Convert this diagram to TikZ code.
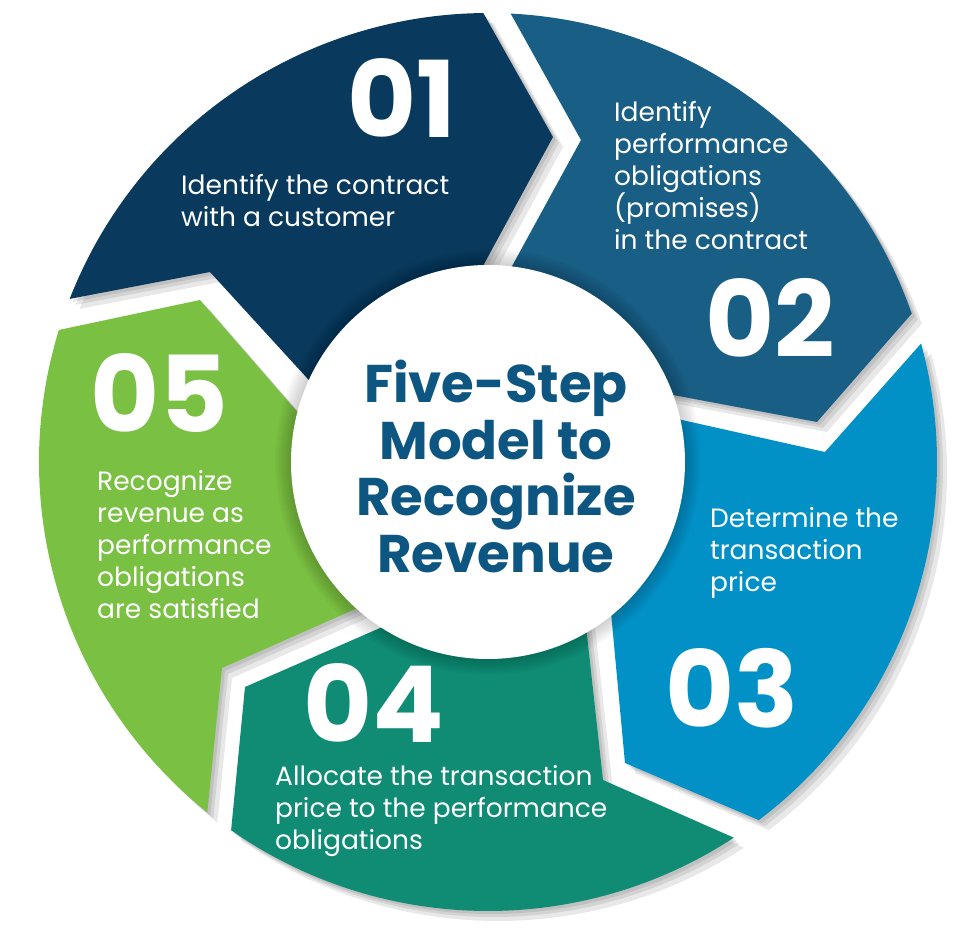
\documentclass[tikz,border=0pt]{standalone}
\usepackage{fontspec}
\setmainfont{Poppins}
\usepackage{xcolor}
\usepackage{tikz}
\usetikzlibrary{calc}
\definecolor{navyone}{RGB}{9,58,93}
\definecolor{bluetwo}{RGB}{25,94,133}
\definecolor{cyanthree}{RGB}{2,145,199}
\definecolor{tealfour}{RGB}{15,140,115}
\definecolor{limefive}{RGB}{122,192,66}
\definecolor{hubblue}{RGB}{14,86,130}
\tikzstyle{piece} = [preaction = {fill=black, opacity=0.09, transform canvas={xshift=3pt, yshift=-3pt}},
  preaction = {fill=black, opacity=0.09, transform canvas={xshift=6pt, yshift=-6pt}},
  preaction = {fill=black, opacity=0.09, transform canvas={xshift=10pt, yshift=-10pt}}]
\tikzstyle{stepnum} = [text=white, inner sep=0pt, text depth=0pt, font=\fontsize{106}{106}\selectfont\bfseries]
\tikzstyle{steptext} = [text=white, inner sep=0pt, align=left, font=\fontsize{26.5}{32}\selectfont]
\tikzstyle{hub} = [text=hubblue, inner sep=0pt, align=center, font=\fontsize{53}{56.5}\selectfont\bfseries]

\begin{document}
\begin{tikzpicture}[x=1pt, y=1pt]
\useasboundingbox (-488,-486) rectangle (490,462);
\fill [piece, navyone] (158.7:449) arc [start angle=158.7, end angle=90.6, radius=449]
  -- (65,325) -- ($(65,325)!1.6!(-5,196)$) -- (0,0) -- ($(-278,190)!1.6!(-181,84)$) -- (-181,84) -- (-278,190) -- cycle;
\fill [piece, bluetwo] (87.1:449) arc [start angle=87.1, end angle=19.3, radius=449]
  -- (329,40) -- ($(329,40)!1.6!(185,67)$) -- (0,0) -- ($(93,322)!1.6!(23,194)$) -- (23,194) -- (93,322) -- cycle;
\fill [piece, cyanthree] (15.3:449) arc [start angle=15.3, end angle=-52.9, radius=449]
  -- (137,-301) -- ($(137,-301)!1.6!(124,-161)$) -- (0,0) -- ($(337,10)!1.6!(194,42)$) -- (194,42) -- (337,10) -- cycle;
\fill [piece, tealfour] (-56.8:449) arc [start angle=-56.8, end angle=-124.9, radius=449]
  -- (-243,-225) -- ($(-243,-225)!1.6!(-108,-166)$) -- (0,0) -- ($(115,-318)!1.6!(99,-173)$) -- (99,-173) -- (115,-318) -- cycle;
\fill [piece, limefive] (231.3:449) arc [start angle=231.3, end angle=162.9, radius=449]
  -- (-288,162) -- ($(-288,162)!1.6!(-195,55)$) -- (0,0) -- ($(-266,-206)!1.6!(-135,-148)$) -- (-135,-148) -- (-266,-206) -- cycle;
\foreach \w in {2,4,...,16}
  \fill [black, opacity=0.025] (0,0) circle ({197+\w});
\fill [white] (0,0) circle (197);
\node [stepnum, anchor=base west] (n1) at (-141,324) {01};
\node [steptext, anchor=base west] (t1) at (-307,235) {Identify the contract\\with a customer};
\node [stepnum, anchor=base west] (n2) at (217,104) {02};
\node [steptext, anchor=base west] (t2) at (126,212) {Identify\\performance\\obligations\\(promises)\\in the contract};
\node [stepnum, anchor=base west] (n3) at (177,-265) {03};
\node [steptext, anchor=base west] (t3) at (222,-129) {Determine the\\transaction\\price};
\node [stepnum, anchor=base west] (n4) at (-185,-280) {04};
\node [steptext, anchor=base west] (t4) at (-213,-387) {Allocate the transaction\\price to the performance\\obligations};
\node [stepnum, anchor=base west] (n5) at (-398,30) {05};
\node [steptext, anchor=base west] (t5) at (-391,-156) {Recognize\\revenue as\\performance\\obligations\\are satisfied};
\node [hub, anchor=base] (title) at (8,-110) {Five-Step\\Model to\\Recognize\\Revenue};
\end{tikzpicture}
\end{document}
